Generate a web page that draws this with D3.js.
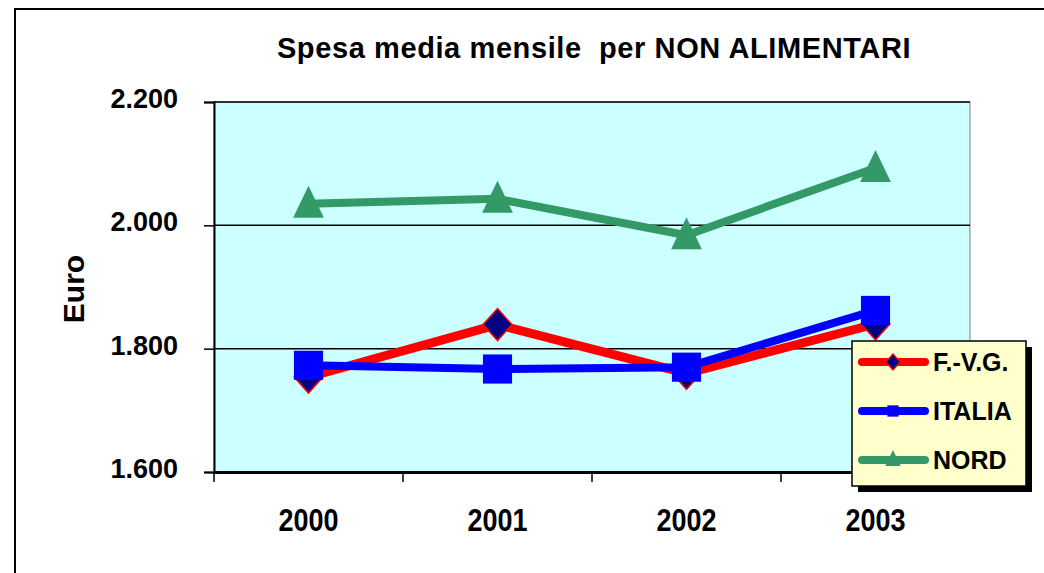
<!DOCTYPE html>
<html>
<head>
<meta charset="utf-8">
<script src="https://cdn.jsdelivr.net/npm/d3@7"></script>
<style>
  html, body { margin: 0; padding: 0; background: #ffffff; }
  svg { display: block; font-family: Arial, "Liberation Sans", sans-serif; }
</style>
</head>
<body>
<svg id="chart" width="1044" height="573"></svg>
<script>
// Spesa media mensile per beni non alimentari (euro)
const years = ["2000", "2001", "2002", "2003"];
const fvg = [1754, 1839, 1760, 1840];
const italia = [1773, 1767, 1770, 1862];
const nord = [2035, 2043, 1984, 2093];
const yTicks = [1600, 1800, 2000, 2200];
const seriesNames = ["F.-V.G.", "ITALIA", "NORD"];

const series = [
  { name: seriesNames[0], values: fvg, line: "#ff0000", fill: "#000080", stroke: "#ff0000", shape: "diamond", width: 9 },
  { name: seriesNames[1], values: italia, line: "#0000ff", fill: "#0000ff", stroke: "#0000ff", shape: "square", width: 8 },
  { name: seriesNames[2], values: nord, line: "#339966", fill: "#339966", stroke: "#339966", shape: "triangle", width: 8 }
];

const svg = d3.select("#chart");
const plot = { left: 214, right: 970, top: 102, bottom: 472 };

const x = d3.scaleBand().domain(years).range([plot.left, plot.right]).paddingInner(0).paddingOuter(0);
const y = d3.scaleLinear().domain([1600, 2200]).range([plot.bottom, plot.top]);
const cx = d => x(d) + x.bandwidth() / 2;

const itLocale = d3.formatLocale({ decimal: ",", thousands: ".", grouping: [3], currency: ["", " €"] });
const fmt = itLocale.format(",.0f");

// outer chart frame
svg.append("rect")
  .attr("x", 15).attr("y", 9).attr("width", 1060).attr("height", 600)
  .attr("fill", "#ffffff").attr("stroke", "#000000").attr("stroke-width", 2);

// plot background
svg.append("rect")
  .attr("x", plot.left).attr("y", plot.top)
  .attr("width", plot.right - plot.left).attr("height", plot.bottom - plot.top)
  .attr("fill", "#ccffff").attr("stroke", "#808080").attr("stroke-width", 1);

// horizontal gridlines
svg.append("g").selectAll("line").data(yTicks.slice(1)).join("line")
  .attr("x1", plot.left).attr("x2", plot.right)
  .attr("y1", d => y(d)).attr("y2", d => y(d))
  .attr("stroke", "#000000").attr("stroke-width", 1.5);

// y axis
const yAxis = svg.append("g")
  .attr("transform", `translate(${plot.left},0)`)
  .call(d3.axisLeft(y).tickValues(yTicks).tickFormat(fmt).tickSize(10).tickPadding(26));
yAxis.select(".domain").attr("stroke", "#000").attr("stroke-width", 2);
yAxis.selectAll(".tick line").attr("stroke", "#000").attr("stroke-width", 1.5);
yAxis.selectAll(".tick text")
  .attr("font-size", 27).attr("font-weight", "bold").attr("fill", "#000")
  .attr("dy", "0.2em");

// x axis: labels centred in each band, ticks on band boundaries
const xAxis = svg.append("g")
  .attr("transform", `translate(0,${plot.bottom})`)
  .call(d3.axisBottom(x).tickSize(0).tickPadding(0));
xAxis.select(".domain").attr("stroke", "#000").attr("stroke-width", 3);
xAxis.selectAll(".tick text")
  .attr("font-size", 27).attr("font-weight", "bold").attr("fill", "#000")
  .attr("dy", 0)
  .attr("transform", "translate(0,59) scale(1,1.17)");

const boundaries = years.map(d => x(d)).concat([x.range()[1]]);
xAxis.append("g").selectAll("line").data(boundaries).join("line")
  .attr("x1", d => d).attr("x2", d => d)
  .attr("y1", 0).attr("y2", 10)
  .attr("stroke", "#000").attr("stroke-width", 1.5);

// title
svg.append("text")
  .attr("x", 594).attr("y", 58)
  .attr("text-anchor", "middle")
  .attr("font-size", 29).attr("font-weight", "bold").attr("fill", "#000")
  .attr("letter-spacing", 0.6)
  .style("white-space", "pre")
  .text("Spesa media mensile  per NON ALIMENTARI");

// y axis title
svg.append("text")
  .attr("transform", "translate(84,289) rotate(-90)")
  .attr("text-anchor", "middle")
  .attr("font-size", 30).attr("font-weight", "bold").attr("fill", "#000")
  .text("Euro");

// marker paths
function markerPath(shape, px, py, s) {
  const p = d3.path();
  if (shape === "diamond") {
    const w = s * 0.45, h = s * 0.5;
    p.moveTo(px, py - h); p.lineTo(px + w, py); p.lineTo(px, py + h); p.lineTo(px - w, py); p.closePath();
  } else if (shape === "square") {
    const h = s * 0.47;
    p.rect(px - h, py - h, 2 * h, 2 * h);
  } else {
    const w = s * 0.48, h = s * 0.5;
    p.moveTo(px, py - h - 2); p.lineTo(px + w, py + h - 2); p.lineTo(px - w, py + h - 2); p.closePath();
  }
  return p.toString();
}

const line = d3.line().x((v, i) => cx(years[i])).y(v => y(v));

series.forEach(s => {
  const g = svg.append("g");
  g.append("path")
    .attr("d", line(s.values))
    .attr("fill", "none").attr("stroke", s.line).attr("stroke-width", s.width)
    .attr("stroke-linejoin", "round");
  g.selectAll("path.m").data(s.values).join("path")
    .attr("class", "m")
    .attr("d", (v, i) => markerPath(s.shape, cx(years[i]), y(v), s.shape === "square" ? 31 : 32))
    .attr("fill", s.fill).attr("stroke", s.stroke).attr("stroke-width", s.shape === "diamond" ? 1.5 : 0);
});

// legend
const lg = { x: 852, y: 341, w: 174, h: 145 };
svg.append("rect")
  .attr("x", lg.x + 6).attr("y", lg.y + 6).attr("width", lg.w).attr("height", lg.h)
  .attr("fill", "#000");
svg.append("rect")
  .attr("x", lg.x).attr("y", lg.y).attr("width", lg.w).attr("height", lg.h)
  .attr("fill", "#ffffcc").attr("stroke", "#000").attr("stroke-width", 1.5);

const legendRows = [362, 411, 460];
series.forEach((s, i) => {
  const ly = legendRows[i];
  svg.append("line")
    .attr("x1", 862).attr("x2", 925).attr("y1", ly).attr("y2", ly)
    .attr("stroke", s.line).attr("stroke-width", 8).attr("stroke-linecap", "round");
  svg.append("path")
    .attr("d", markerPath(s.shape, 893, ly, s.shape === "square" ? 12 : 16))
    .attr("fill", s.fill).attr("stroke", s.stroke).attr("stroke-width", s.shape === "diamond" ? 1.2 : 0);
  svg.append("text")
    .attr("x", 933).attr("y", ly + 9)
    .attr("font-size", 25).attr("font-weight", "bold").attr("fill", "#000")
    .text(s.name);
});
</script>
</body>
</html>
